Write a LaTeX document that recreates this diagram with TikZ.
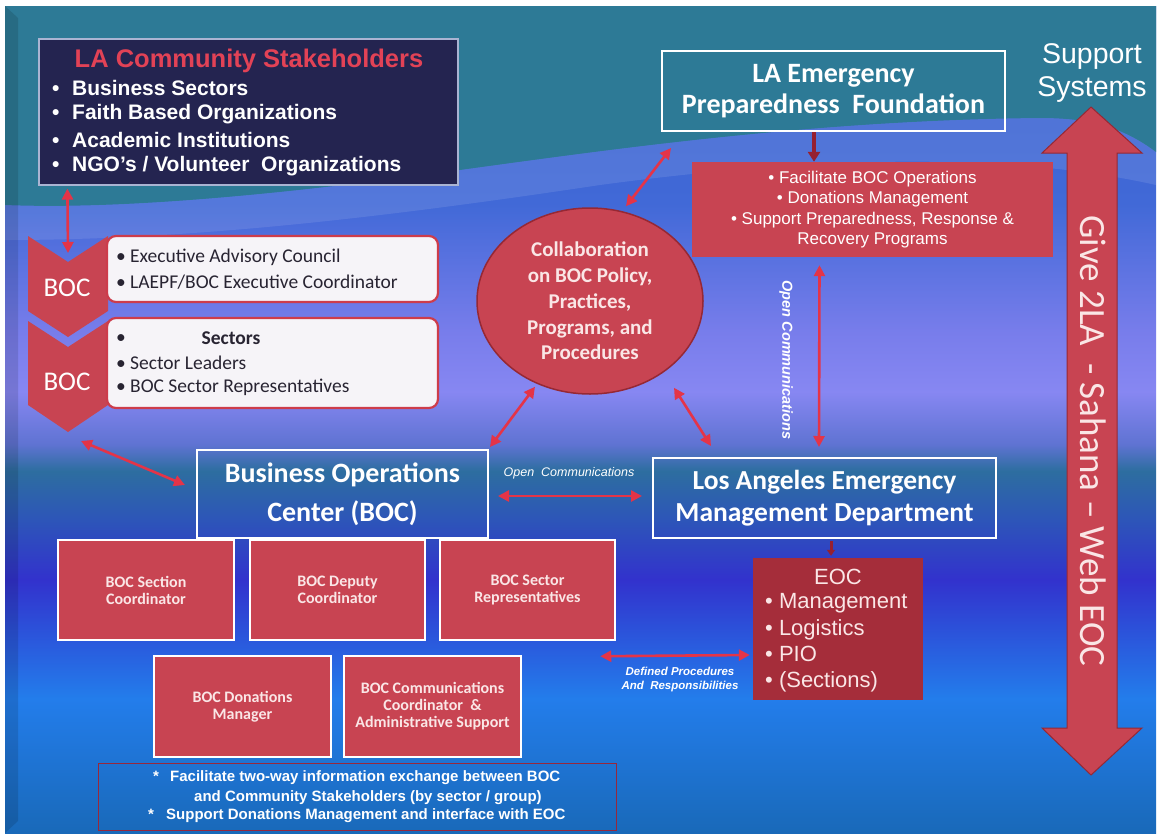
\documentclass[tikz,border=0pt]{standalone}
\usepackage{fontspec}
\setmainfont{Liberation Sans}
\newfontfamily\calfont{Carlito}
\usetikzlibrary{arrows.meta,shapes.geometric,calc}
\newcommand{\fsz}[2]{\fontsize{#1}{#2}\selectfont}
\definecolor{redf}{RGB}{200,68,82}
\definecolor{eocf}{RGB}{165,45,58}
\definecolor{arrred}{RGB}{228,52,72}
\definecolor{darkarr}{RGB}{150,32,48}
\definecolor{navy}{RGB}{36,36,80}
\definecolor{navyline}{RGB}{170,180,210}
\definecolor{titlered}{RGB}{226,66,86}
\definecolor{tealc}{RGB}{45,122,150}
\definecolor{wboxline}{RGB}{205,60,75}
\definecolor{wboxfill}{RGB}{246,244,248}
\definecolor{wtext}{RGB}{40,36,50}
\definecolor{pinkw}{RGB}{250,230,230}
\definecolor{circline}{RGB}{150,40,52}
\definecolor{notered}{RGB}{150,40,60}
\pgfdeclareverticalshading{bgshade}{100bp}{rgb(0bp)=(0.098,0.412,0.725);
 rgb(25bp)=(0.098,0.412,0.725);
 rgb(33.13bp)=(0.137,0.490,0.922);
 rgb(40.31bp)=(0.196,0.196,0.804);
 rgb(43.9bp)=(0.176,0.333,0.725);
 rgb(46.89bp)=(0.176,0.431,0.627);
 rgb(48.5bp)=(0.373,0.451,0.824);
 rgb(51.67bp)=(0.529,0.529,0.949);
 rgb(55.26bp)=(0.471,0.490,0.922);
 rgb(63.04bp)=(0.255,0.412,0.843);
 rgb(75bp)=(0.216,0.373,0.804);
 rgb(100bp)=(0.216,0.373,0.804)}
\begin{document}
\begin{tikzpicture}[x=1pt,y=-1pt,
 stakebox/.style={fill=navy, draw=navyline, line width=1.2pt, inner sep=0},
 staketext/.style={anchor=west, inner sep=0, text=white, font=\bfseries\fsz{21}{25}},
 wbox/.style={fill=wboxfill, draw=wboxline, line width=2.2pt, rounded corners=9pt, inner sep=0},
 wtxt/.style={anchor=west, inner sep=0, text=wtext, font=\calfont\fsz{19.5}{24}},
 chevtxt/.style={text=white, inner sep=0, font=\calfont\fsz{27}{30}},
 obox/.style={draw=white, line width=2pt, text=white, align=center, inner sep=0, font=\calfont\bfseries\fsz{27.5}{32}},
 prepbox/.style={fill=redf, text=white, align=center, inner sep=0, font=\fsz{17}{20.5}},
 sbox/.style={fill=redf, draw=white, line width=2.5pt, text=pinkw, align=center, inner sep=0, font=\calfont\bfseries\fsz{16}{17}},
 eocbox/.style={fill=eocf, inner sep=0},
 circ/.style={ellipse, fill=redf, draw=circline, line width=1.5pt, text=pinkw, align=center, inner sep=0, font=\calfont\bfseries\fsz{21}{25.7}},
 arr/.style={draw=arrred, line width=2.6pt, {Triangle[length=11pt,width=11pt]}-{Triangle[length=11pt,width=11pt]}},
 darr/.style={draw=darkarr, line width=4pt, -{Triangle[length=10pt,width=12pt]}},
 lbl/.style={text=white, inner sep=0, align=center},
 notetxt/.style={anchor=west, inner sep=0, text=white, font=\bfseries\fsz{15}{18}}
]
\useasboundingbox (0,0) rectangle (1159,836);
\fill[white] (0,0) rectangle (1159,836);
% background
\shade[shading=bgshade] (5,6) rectangle (1156,833);
\fill[tealc] (5,6) -- (1156,6) -- (1156,152) .. controls (1120,125) and (1085,118) .. (1040,118) .. controls (820,120) and (620,148) .. (460,170) .. controls (300,192) and (130,210) .. (5,205) -- cycle;
\fill[white, opacity=0.10] (1156,152) .. controls (1120,125) and (1085,118) .. (1040,118) .. controls (820,120) and (620,148) .. (460,170) .. controls (300,192) and (130,210) .. (5,205) -- (5,240) .. controls (200,240) and (400,215) .. (600,185) .. controls (800,158) and (1000,150) .. (1156,185) -- cycle;
\fill[black, opacity=0.12] (5,6) -- (18,18) -- (18,821) -- (5,833) -- cycle;

% stakeholders
\node[stakebox, minimum width=419pt, minimum height=146pt] (stake) at (248.5,112) {};
\node[text=titlered, inner sep=0, font=\bfseries\fsz{25.5}{30}] (staketitle) at (249,61) {LA Community Stakeholders};
\node[staketext] (st1) at (52,88) {\makebox[20pt][l]{•}Business Sectors};
\node[staketext] (st2) at (52,114) {\makebox[20pt][l]{•}Faith Based Organizations};
\node[staketext] (st3) at (52,140) {\makebox[20pt][l]{•}Academic Institutions};
\node[staketext] (st4) at (52,166) {\makebox[20pt][l]{•}NGO’s / Volunteer\ \ Organizations};

% chevrons
\fill[redf] (28,236) -- (68,262) -- (108,236) -- (108,311) -- (68,337) -- (28,311) -- cycle;
\fill[redf] (28,321) -- (68,347) -- (108,321) -- (108,405) -- (68,432) -- (28,405) -- cycle;
\node[chevtxt] (boc1) at (67,288) {BOC};
\node[chevtxt] (boc2) at (67,382) {BOC};
\coordinate (chev1top) at (68,253);
\coordinate (chev2bot) at (81,441);

% white boxes
\node[wbox, minimum width=331pt, minimum height=66pt] (exec) at (272.5,269) {};
\node[wtxt] (e1) at (116,257) {\makebox[14pt][l]{•}Executive Advisory Council};
\node[wtxt] (e2) at (116,282) {\makebox[14pt][l]{•}LAEPF/BOC Executive Coordinator};
\node[wbox, minimum width=331pt, minimum height=90pt] (sect) at (272.5,363) {};
\node[wtxt] (s0) at (116,339) {•};
\node[wtxt, anchor=center, font=\calfont\bfseries\fsz{19.5}{24}] (s1) at (231,338) {Sectors};
\node[wtxt] (s2) at (116,363) {\makebox[14pt][l]{•}Sector Leaders};
\node[wtxt] (s3) at (116,387) {\makebox[14pt][l]{•}BOC Sector Representatives};

% main boxes
\node[obox, minimum width=291pt, minimum height=88pt, font=\calfont\bfseries\fsz{28}{39}] (bocc) at (342.5,494) {Business Operations\\Center (BOC)};
\node[obox, minimum width=343pt, minimum height=80pt, font=\calfont\bfseries\fsz{28}{31}] (laepf) at (833.5,91) {LA Emergency\\Preparedness\ \ Foundation};
\node[obox, minimum width=343pt, minimum height=80pt] (laemd) at (824.5,498) {Los Angeles Emergency\\Management Department};
\node[prepbox, minimum width=361pt, minimum height=95pt] (prep) at (872.5,209.5) {• Facilitate BOC Operations\\• Donations Management\\• Support Preparedness, Response \&\\Recovery Programs};
\node[circ, minimum width=226pt, minimum height=186pt] (collab) at (590,301) {Collaboration\\on BOC Policy,\\Practices,\\Programs, and\\Procedures};

% EOC
\node[eocbox, minimum width=170pt, minimum height=142pt] (eoc) at (838,629) {};
\node[text=pinkw, inner sep=0, font=\fsz{22}{26}] (eoct) at (838,577) {EOC};
\node[anchor=west, align=left, inner sep=0, text=pinkw, font=\fsz{22}{26.3}] (eoclist) at (765,643) {• Management\\• Logistics\\• PIO\\• (Sections)};

% sub boxes
\node[sbox, minimum width=176pt, minimum height=100pt] (bsc) at (146,590) {BOC Section\\Coordinator};
\node[sbox, minimum width=175pt, minimum height=100pt] (bdc) at (337.5,590) {BOC Deputy\\Coordinator};
\node[sbox, minimum width=175pt, minimum height=100pt] (bsr) at (527.5,590) {BOC Sector\\Representatives};
\node[sbox, minimum width=177pt, minimum height=101pt] (bdm) at (242.5,706.5) {BOC Donations\\Manager};
\node[sbox, minimum width=177pt, minimum height=101pt] (bcc) at (432.5,706.5) {BOC Communications\\Coordinator\ \ \&\\Administrative Support};

% note box
\node[draw=notered, line width=1pt, minimum width=518pt, minimum height=67pt, inner sep=0] (note) at (357,796.5) {};
\node[notetxt] (n1) at (153,778) {\makebox[17pt][l]{*}Facilitate two-way information exchange between BOC};
\node[notetxt] (n2) at (194,798) {and Community Stakeholders (by sector / group)};
\node[notetxt] (n3) at (148,816) {\makebox[18pt][l]{*}Support Donations Management and interface with EOC};

% support systems
\node[text=white, align=center, inner sep=0, font=\fsz{28.5}{33}] (sup) at (1092,73) {Support\\Systems};
\fill[redf, draw=circline, line width=1pt] (1091,107) -- (1142,153) -- (1117,153) -- (1117,728) -- (1142,728) -- (1091,775) -- (1042,728) -- (1067,728) -- (1067,153) -- (1042,153) -- cycle;
\node[rotate=-90, text=pinkw, inner sep=0, font=\calfont\fsz{37}{40}] (give) at (1093,441) {Give 2LA\ \ - Sahana – Web EOC};

% connectors
\draw[arr] ($(stake.south west)+(29,3)$) -- (chev1top);
\draw[arr] (chev2bot) -- ($(bocc.west)+(-11,-9)$);
\draw[arr] ($(collab.north)+(36,-1)$) -- ($(laepf.south west)+(10,16)$);
\draw[arr] ($(collab.south)+(-55,-8)$) -- ($(bocc.north east)+(1,-2)$);
\draw[arr] ($(collab.south)+(84,-7)$) -- ($(laemd.north west)+(59,-11)$);
\draw[arr] ($(bocc.east)+(9,2)$) -- ($(laemd.west)+(-10,-2)$);
\draw[arr] ($(prep.south)+(-53,8)$) -- ($(laemd.north)+(-5.5,-10)$);
\draw[darr] ($(laepf.south)+(-19.5,0)$) -- ($(prep.north)+(-58.5,0)$);
\draw[darkarr, line width=3pt, -{Triangle[length=6pt,width=8pt]}] ($(laemd.south)+(6.5,2)$) -- ($(eoc.north)+(-7,-2)$);
\draw[arr] ($(bsr.south east)+(-16,15)$) -- ($(eoc.west)+(-3,26)$);

% labels
\node[lbl, font=\itshape\fsz{12.5}{14}] (oc1) at (569,473) {Open\ \ Communications};
\node[lbl, rotate=-90, font=\bfseries\itshape\fsz{14.5}{16}] (oc2) at (786,360) {Open Communications};
\node[lbl, font=\bfseries\itshape\fsz{11.5}{14}] (dp) at (680,680) {Defined Procedures\\And\ \ Responsibilities};
\end{tikzpicture}
\end{document}
